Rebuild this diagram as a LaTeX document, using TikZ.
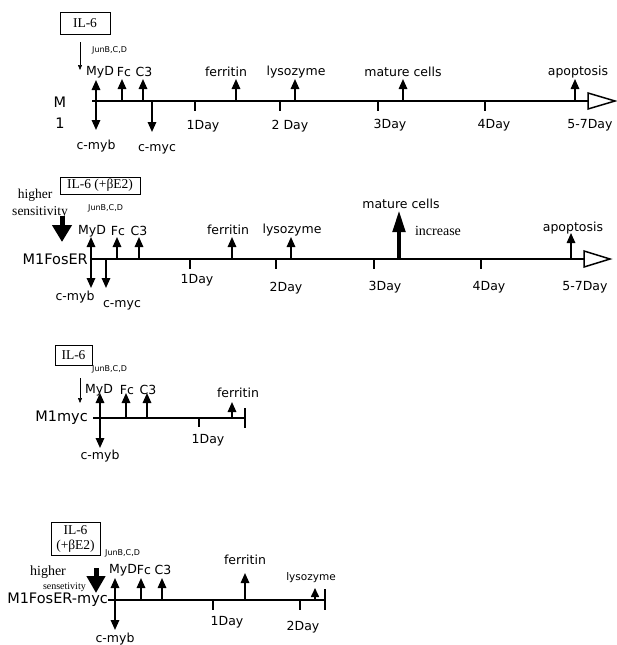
\documentclass[tikz,border=0pt]{standalone}
\usepackage{fontspec}
\setmainfont{Liberation Serif}
\newfontfamily\labfont{DejaVu Sans}
\usetikzlibrary{arrows.meta}
\begin{document}
\begin{tikzpicture}[x=1pt,y=-1pt,
  lab/.style={font=\labfont\fontsize{12.5}{13}\selectfont, inner sep=0pt},
  rowlab/.style={font=\labfont\fontsize{14.5}{15}\selectfont, inner sep=0pt},
  small/.style={font=\labfont\fontsize{8}{8}\selectfont, inner sep=0pt},
  serif/.style={font=\fontsize{13.5}{14}\selectfont, inner sep=0pt},
  ilbox/.style={draw, line width=0.8pt, font=\fontsize{13.5}{15}\selectfont, inner sep=0pt, align=center},
  tl/.style={line width=1.7pt},
  tick/.style={line width=1.4pt},
  up/.style={line width=1.6pt, -{Triangle[width=8.5pt,length=10pt]}},
  dbl/.style={line width=1.6pt, {Triangle[width=8.5pt,length=10pt]}-{Triangle[width=8.5pt,length=10pt]}},
  thin/.style={line width=0.6pt, -{Triangle[width=4pt,length=5pt]}},
  big/.style={line width=5pt, -{Triangle[width=19pt,length=17pt]}},
  opentri/.style={line width=1.5pt, fill=white},
  endbar/.style={line width=2.5pt}
]
\useasboundingbox (0,0) rectangle (617,645);

% ================= Panel 1 : M1 =================
\node[ilbox, minimum width=50pt, minimum height=22pt] (b1) at (85,23) {IL-6};
\coordinate (s1a) at (80,42); \coordinate (s1b) at (80,70);
\draw[thin] (s1a) -- (s1b);
\node[small, anchor=west] (j1) at (92,50) {JunB,C,D};
\node[lab] (myd1) at (100,72) {MyD};
\node[lab] (fc1) at (124,72) {Fc};
\node[lab] (c31) at (144,72) {C3};
\node[rowlab] (m1a) at (60,102) {M};
\node[rowlab] (m1b) at (60,123) {1};
\coordinate (t1s) at (92,101); \coordinate (t1e) at (588,101);
\draw[tl] (t1s) -- (t1e);
\draw[opentri] (t1e) -- ++(0,-8) -- ++(27,8) -- ++(-27,8) -- cycle;
% arrows
\coordinate (d1u) at (96,80); \coordinate (d1d) at (96,130);
\draw[dbl] (d1u) -- (d1d);
\coordinate (f1b) at (122,101); \coordinate (f1t) at (122,79);
\draw[up] (f1b) -- (f1t);
\coordinate (c1b) at (143,101); \coordinate (c1t) at (143,79);
\draw[up] (c1b) -- (c1t);
\coordinate (y1b) at (152,101); \coordinate (y1t) at (152,132);
\draw[up] (y1b) -- (y1t);
\node[lab] (cmyb1) at (96,146) {c-myb};
\node[lab] (cmyc1) at (157,149) {c-myc};
\coordinate (fe1b) at (236,101); \coordinate (fe1t) at (236,79);
\draw[up] (fe1b) -- (fe1t);
\node[lab] (fer1) at (226,72) {ferritin};
\coordinate (ly1b) at (295,101); \coordinate (ly1t) at (295,79);
\draw[up] (ly1b) -- (ly1t);
\node[lab] (lys1) at (296,72) {lysozyme};
\coordinate (mc1b) at (403,101); \coordinate (mc1t) at (403,79);
\draw[up] (mc1b) -- (mc1t);
\node[lab] (mat1) at (403,72) {mature cells};
\coordinate (ap1b) at (575,101); \coordinate (ap1t) at (575,79);
\draw[up] (ap1b) -- (ap1t);
\node[lab] (apo1) at (578,72) {apoptosis};
% ticks
\foreach \x/\n in {195/a,280/b,378/c,485/d}{
  \coordinate (k1\n) at (\x,101); \coordinate (k1\n e) at (\x,111);
  \draw[tick] (k1\n) -- (k1\n e);
}
\node[lab] (d11) at (203,126) {1Day};
\node[lab] (d12) at (290,126) {2 Day};
\node[lab] (d13) at (390,125) {3Day};
\node[lab] (d14) at (494,125) {4Day};
\node[lab] (d15) at (590,125) {5-7Day};

% ================= Panel 2 : M1FosER =================
\node[ilbox, minimum width=80pt, minimum height=17pt] (b2) at (100,185.5) {IL-6 (+βE2)};
\node[serif] (hi2) at (35,195) {higher};
\node[serif] (se2) at (40,212) {sensitivity};
\coordinate (bg2a) at (62,216); \coordinate (bg2b) at (62,242);
\draw[big] (bg2a) -- (bg2b);
\node[small, anchor=west] (j2) at (88,208) {JunB,C,D};
\node[lab] (myd2) at (92,231) {MyD};
\node[lab] (fc2) at (118,231) {Fc};
\node[lab] (c32) at (139,231) {C3};
\node[rowlab, anchor=east] (r2) at (88,259) {M1FosER};
\coordinate (t2s) at (90,259); \coordinate (t2m) at (148,259); \coordinate (t2e) at (584,259);
\draw[tl] (t2s) -- (t2e);
\draw[line width=2.6pt] (t2s) -- (t2m);
\draw[opentri] (t2e) -- ++(0,-8) -- ++(26,8) -- ++(-26,8) -- cycle;
\coordinate (d2u) at (91,237); \coordinate (d2d) at (91,288);
\draw[dbl] (d2u) -- (d2d);
\coordinate (y2b) at (106,259); \coordinate (y2t) at (106,288);
\draw[up] (y2b) -- (y2t);
\coordinate (f2b) at (117,259); \coordinate (f2t) at (117,237);
\draw[up] (f2b) -- (f2t);
\coordinate (c2b) at (139,259); \coordinate (c2t) at (139,237);
\draw[up] (c2b) -- (c2t);
\node[lab] (cmyb2) at (75,297) {c-myb};
\node[lab] (cmyc2) at (122,305) {c-myc};
\coordinate (fe2b) at (232,259); \coordinate (fe2t) at (232,237);
\draw[up] (fe2b) -- (fe2t);
\node[lab] (fer2) at (228,230) {ferritin};
\coordinate (ly2b) at (291,259); \coordinate (ly2t) at (291,237);
\draw[up] (ly2b) -- (ly2t);
\node[lab] (lys2) at (292,230) {lysozyme};
\coordinate (mc2b) at (399,259); \coordinate (mc2t) at (399,210);
\draw[line width=4.5pt, -{Triangle[width=12pt,length=22pt]}] (mc2b) -- (mc2t);
\node[lab] (mat2) at (401,204) {mature cells};
\node[serif, font=\fontsize{14}{14}\selectfont] (inc2) at (438,231) {increase};
\coordinate (ap2b) at (571,259); \coordinate (ap2t) at (571,233);
\draw[up] (ap2b) -- (ap2t);
\node[lab] (apo2) at (573,228) {apoptosis};
\foreach \x/\n in {190/a,276/b,374/c,481/d}{
  \coordinate (k2\n) at (\x,259); \coordinate (k2\n e) at (\x,269);
  \draw[tick] (k2\n) -- (k2\n e);
}
\node[lab] (d21) at (197,280) {1Day};
\node[lab] (d22) at (286,288) {2Day};
\node[lab] (d23) at (385,287) {3Day};
\node[lab] (d24) at (489,287) {4Day};
\node[lab] (d25) at (585,287) {5-7Day};

% ================= Panel 3 : M1myc =================
\node[ilbox, minimum width=37pt, minimum height=20pt] (b3) at (73.5,355) {IL-6};
\node[small, anchor=west] (j3) at (92,369) {JunB,C,D};
\coordinate (s3a) at (80,378); \coordinate (s3b) at (80,403);
\draw[thin] (s3a) -- (s3b);
\node[lab] (myd3) at (99,390) {MyD};
\node[lab] (fc3) at (127,390) {Fc};
\node[lab] (c33) at (148,390) {C3};
\node[rowlab, anchor=east] (r3) at (88,418) {M1myc};
\coordinate (t3s) at (93,418); \coordinate (t3e) at (245,418);
\draw[tl] (t3s) -- (t3e);
\coordinate (e3a) at (245,408); \coordinate (e3b) at (245,428);
\draw[endbar] (e3a) -- (e3b);
\coordinate (d3u) at (100,393); \coordinate (d3d) at (100,448);
\draw[dbl] (d3u) -- (d3d);
\coordinate (f3b) at (126,418); \coordinate (f3t) at (126,393);
\draw[up] (f3b) -- (f3t);
\coordinate (c3b) at (147,418); \coordinate (c3t) at (147,393);
\draw[up] (c3b) -- (c3t);
\node[lab] (cmyb3) at (100,456) {c-myb};
\coordinate (k3a) at (199,418); \coordinate (k3ae) at (199,427);
\draw[tick] (k3a) -- (k3ae);
\node[lab] (d31) at (208,440) {1Day};
\coordinate (fe3b) at (232,418); \coordinate (fe3t) at (232,402);
\draw[up] (fe3b) -- (fe3t);
\node[lab] (fer3) at (238,393) {ferritin};

% ================= Panel 4 : M1FosER-myc =================
\node[ilbox, minimum width=49pt, minimum height=33pt] (b4) at (75.5,538.5) {IL-6\\(+βE2)};
\node[small, anchor=west] (j4) at (105,553) {JunB,C,D};
\node[serif, font=\fontsize{14}{15}\selectfont] (hi4) at (48,572) {higher};
\node[serif, font=\fontsize{10}{10}\selectfont, anchor=east] (se4) at (86,587) {sensetivity};
\coordinate (bg4a) at (96,568); \coordinate (bg4b) at (96,593);
\draw[line width=5pt, -{Triangle[width=18pt,length=17pt]}] (bg4a) -- (bg4b);
\node[lab] (myd4) at (123,570) {MyD};
\node[lab] (fc4) at (144,570) {Fc};
\node[lab] (c34) at (163,570) {C3};
\node[rowlab, anchor=east] (r4) at (108,600) {M1FosER-myc};
\coordinate (t4s) at (108,600); \coordinate (t4e) at (325,600);
\draw[tl] (t4s) -- (t4e);
\coordinate (e4a) at (325,589); \coordinate (e4b) at (325,610);
\draw[endbar] (e4a) -- (e4b);
\coordinate (d4u) at (115,578); \coordinate (d4d) at (115,630);
\draw[dbl] (d4u) -- (d4d);
\coordinate (f4b) at (141,600); \coordinate (f4t) at (141,578);
\draw[up] (f4b) -- (f4t);
\coordinate (c4b) at (162,600); \coordinate (c4t) at (162,578);
\draw[up] (c4b) -- (c4t);
\node[lab] (cmyb4) at (115,639) {c-myb};
\coordinate (k4a) at (213,600); \coordinate (k4ae) at (213,610);
\draw[tick] (k4a) -- (k4ae);
\coordinate (k4b) at (300,600); \coordinate (k4be) at (300,610);
\draw[tick] (k4b) -- (k4be);
\node[lab] (d41) at (227,622) {1Day};
\node[lab] (d42) at (303,627) {2Day};
\coordinate (fe4b) at (245,600); \coordinate (fe4t) at (245,573);
\draw[up] (fe4b) -- (fe4t);
\node[lab] (fer4) at (245,560) {ferritin};
\coordinate (ly4b) at (315,600); \coordinate (ly4t) at (315,588);
\draw[line width=1.6pt, -{Triangle[width=8pt,length=9pt]}] (ly4b) -- (ly4t);
\node[lab, font=\labfont\fontsize{10.5}{10}\selectfont] (lys4) at (311,578) {lysozyme};
\end{tikzpicture}
\end{document}
